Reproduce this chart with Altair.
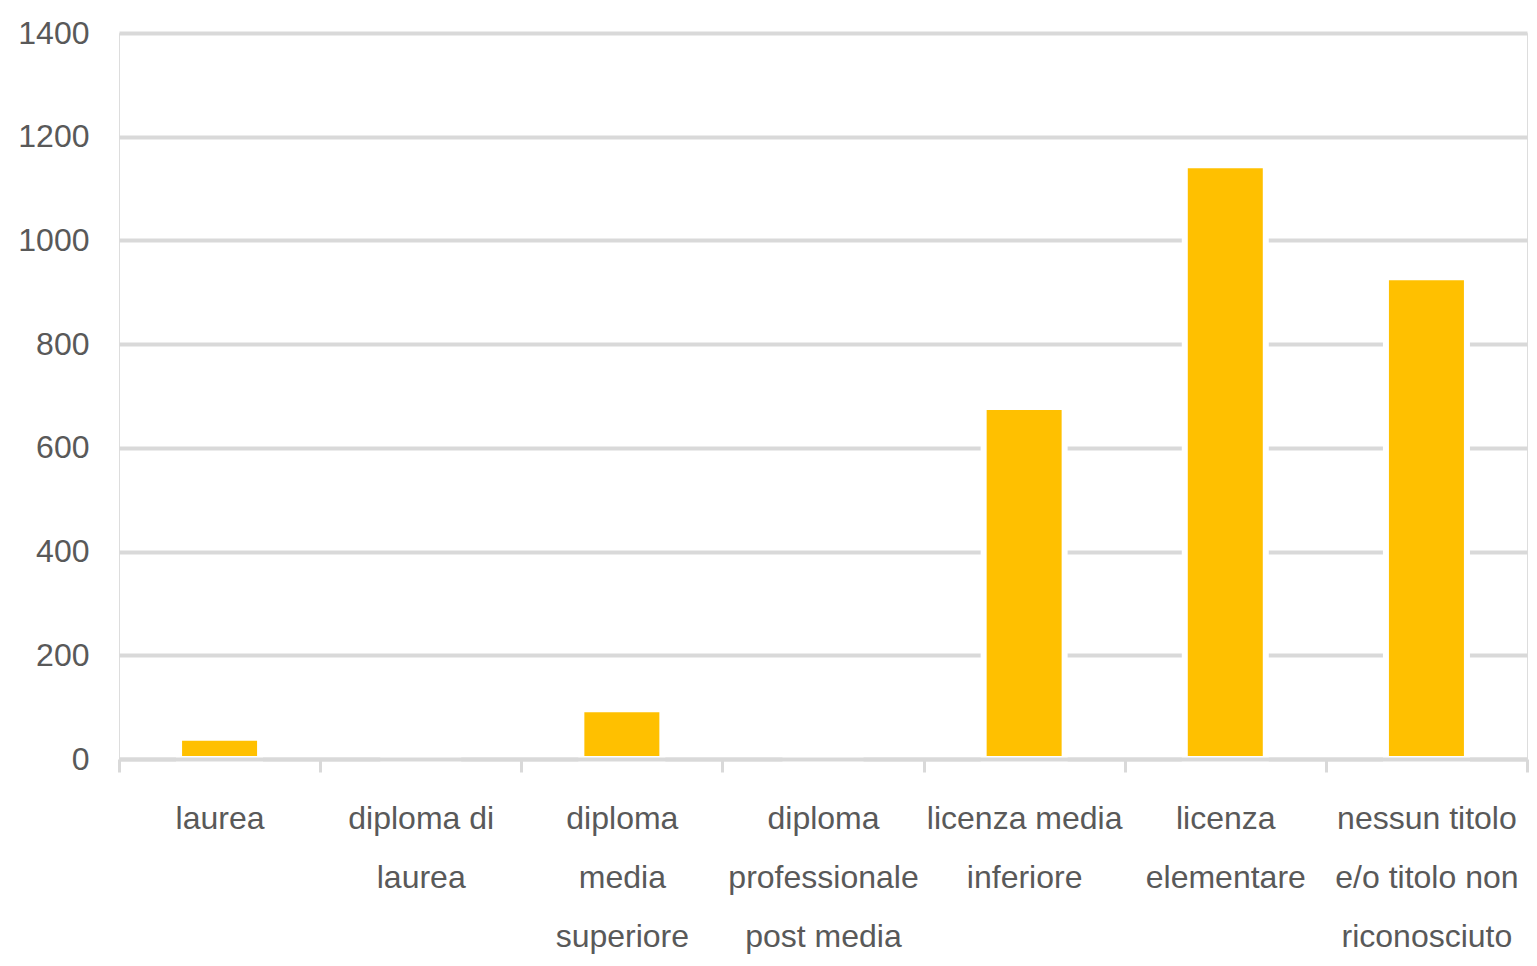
import altair as alt
import pandas as pd

categories = [
    "laurea",
    "diploma di\nlaurea",
    "diploma\nmedia\nsuperiore",
    "diploma\nprofessionale\npost media",
    "licenza media\ninferiore",
    "licenza\nelementare",
    "nessun titolo\ne/o titolo non\nriconosciuto",
]
values = [41, 0, 96, 0, 679, 1145, 929]
y_ticks = [0, 200, 400, 600, 800, 1000, 1200, 1400]

df = pd.DataFrame({"titolo": categories, "valore": values})

FONT = "Liberation Sans, Arial, sans-serif"
GRID = "#D9D9D9"
TEXT = "#595959"

chart = (
    alt.Chart(df)
    .mark_bar(color="#FFC000", stroke="white", strokeWidth=6, size=81)
    .encode(
        x=alt.X(
            "titolo:N",
            sort=categories,
            title=None,
            scale=alt.Scale(paddingInner=0, paddingOuter=0),
            axis=alt.Axis(
                labelAngle=0,
                labelExpr="datum.value ? split(datum.value, '\\n') : ''",
                labelFont=FONT,
                labelFontSize=32,
                labelColor=TEXT,
                labelLineHeight=59,
                labelPadding=31,
                labelAlign="center",
                labelBaseline="top",
                labelLimit=0,
                labelOverlap=False,
                domainColor=GRID,
                domainWidth=4,
                tickColor=GRID,
                tickWidth=3,
                tickSize=13,
                tickBand="extent",
                grid=False,
                zindex=1,
            ),
        ),
        y=alt.Y(
            "valore:Q",
            title=None,
            scale=alt.Scale(domain=[0, 1400], nice=False),
            axis=alt.Axis(
                values=y_ticks,
                format="d",
                labelFont=FONT,
                labelFontSize=32,
                labelColor=TEXT,
                labelPadding=30,
                ticks=False,
                domain=False,
                grid=True,
                gridColor=GRID,
                gridWidth=4,
            ),
        ),
    )
    .properties(
        width=1408,
        height=726,
        autosize=alt.AutoSizeParams(type="none"),
        padding={"left": 111, "top": 25, "right": 2, "bottom": 197},
    )
    .configure_view(stroke=None)
    .configure(background="white")
)

chart.save("out.html", embed_options={"renderer": "svg", "actions": False})
